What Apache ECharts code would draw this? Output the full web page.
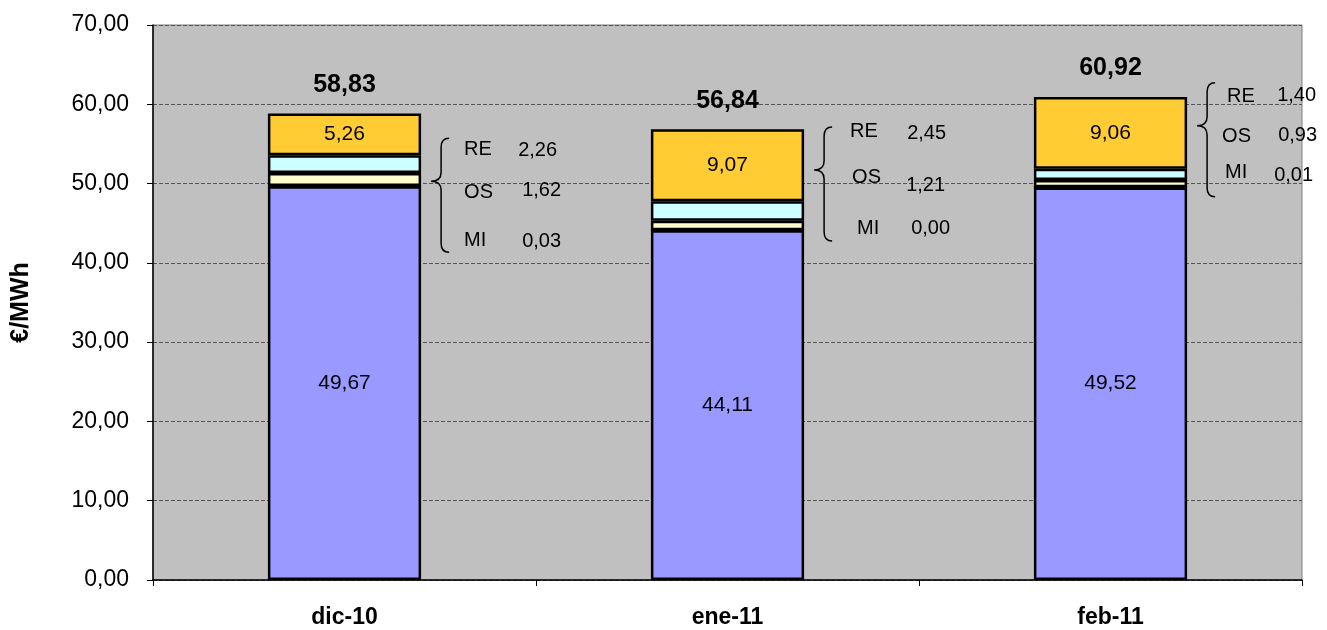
<!DOCTYPE html>
<html>
<head>
<meta charset="utf-8">
<script src="https://cdn.jsdelivr.net/npm/echarts@6/dist/echarts.min.js"></script>
<style>
  html, body { margin: 0; padding: 0; background: #ffffff; }
  #chart { width: 1327px; height: 630px; }
</style>
</head>
<body>
<div id="chart"></div>
<script>
// ---- data ----
const categories = ['dic-10', 'ene-11', 'feb-11'];
const baseValues = [49.67, 44.11, 49.52];
const miValues = [0.03, 0.00, 0.01];
const osValues = [1.62, 1.21, 0.93];
const reValues = [2.26, 2.45, 1.40];
const topValues = [5.26, 9.07, 9.06];
const totals = [58.83, 56.84, 60.92];
const yTicks = { min: 0, max: 70, interval: 10 };

// ---- annotation layout (value where each brace points, text offsets in px) ----
const braceTip = [50.3, 51.7, 57.3];
const annoLayout = [
  { lx: [33, 33, 33], ly: [-32, 11, 59], vx: [126, 130, 130], vy: [-31, 9, 60] },
  { lx: [36, 38, 43], ly: [-39, 7, 58], vx: [132, 131, 136], vy: [-37, 15, 58] },
  { lx: [30, 25, 28], ly: [-29, 11, 47], vx: [119, 120, 116], vy: [-30, 10, 50] }
];

const FONT = 'Liberation Sans, Arial, sans-serif';
const fmt = v => Number(v).toFixed(2).replace('.', ',');

const chart = echarts.init(document.getElementById('chart'), null, { renderer: 'canvas' });

const BW = 2.5;
const barBase = { type: 'bar', stack: 'total', barWidth: '40%' };

function braceRender(params, api) {
  const i = api.value(0);
  const p = api.coord([i, api.value(1)]);
  const bw = api.size([1, 0])[0] * 0.4;
  const tx = p[0] + bw / 2 + 10;
  const ty = p[1];
  const top = ty - 43, bot = ty + 71;
  const vx = tx + 10;
  const path = `M${tx + 18} ${top} Q${vx} ${top} ${vx} ${top + 9} L${vx} ${ty - 9} Q${vx} ${ty} ${tx} ${ty} ` +
               `Q${vx} ${ty} ${vx} ${ty + 9} L${vx} ${bot - 9} Q${vx} ${bot} ${tx + 18} ${bot}`;
  const L = annoLayout[i];
  const rows = [['RE', reValues[i]], ['OS', osValues[i]], ['MI', miValues[i]]];
  const children = [{
    type: 'path',
    shape: { pathData: path },
    style: { fill: null, stroke: '#000', lineWidth: 1.5 }
  }];
  rows.forEach((r, k) => {
    children.push({
      type: 'text',
      style: { text: r[0], x: tx + L.lx[k], y: ty + L.ly[k], fill: '#000', fontSize: 20, fontFamily: FONT, align: 'left', verticalAlign: 'middle' }
    });
    children.push({
      type: 'text',
      style: { text: fmt(r[1]), x: tx + L.vx[k], y: ty + L.vy[k], fill: '#000', fontSize: 20, fontFamily: FONT, align: 'right', verticalAlign: 'middle' }
    });
  });
  return { type: 'group', children };
}

const option = {
  animation: false,
  backgroundColor: '#ffffff',
  textStyle: { fontFamily: FONT },
  grid: {
    left: 153, right: 25, top: 25, bottom: 50,
    show: true, backgroundColor: '#C0C0C0', borderColor: '#808080', borderWidth: 1
  },
  xAxis: {
    type: 'category',
    data: categories,
    axisLine: { lineStyle: { color: '#000', width: 1.5 } },
    axisTick: { show: true, length: 6, lineStyle: { color: '#000' } },
    axisLabel: { color: '#000', fontSize: 23, fontWeight: 'bold', fontFamily: FONT, margin: 26 }
  },
  yAxis: {
    type: 'value',
    min: yTicks.min, max: yTicks.max, interval: yTicks.interval,
    name: '€/MWh',
    nameLocation: 'middle',
    nameRotate: 90,
    nameGap: 119,
    nameTextStyle: { color: '#000', fontSize: 25, fontWeight: 'bold', fontFamily: FONT },
    axisLine: { show: true, lineStyle: { color: '#000', width: 1.5 } },
    axisTick: { show: true, length: 6, lineStyle: { color: '#000' } },
    axisLabel: { color: '#000', fontSize: 23, fontFamily: FONT, margin: 24, formatter: v => fmt(v) },
    splitLine: { show: true, lineStyle: { color: '#555', type: [4, 2], width: 1 } }
  },
  series: [
    Object.assign({}, barBase, {
      name: 'base', data: baseValues,
      itemStyle: { color: '#9999FF', borderColor: '#000', borderWidth: BW },
      label: { show: true, position: 'inside', color: '#000', fontSize: 21, fontFamily: FONT, formatter: p => fmt(p.value) }
    }),
    Object.assign({}, barBase, {
      name: 'MI', data: miValues,
      itemStyle: { color: '#333399', borderColor: '#000', borderWidth: BW }
    }),
    Object.assign({}, barBase, {
      name: 'OS', data: osValues,
      itemStyle: { color: '#FFFFCC', borderColor: '#000', borderWidth: BW }
    }),
    Object.assign({}, barBase, {
      name: 'RE', data: reValues,
      itemStyle: { color: '#CCFFFF', borderColor: '#000', borderWidth: BW }
    }),
    Object.assign({}, barBase, {
      name: 'top', data: topValues,
      itemStyle: { color: '#FFCC33', borderColor: '#000', borderWidth: BW },
      label: { show: true, position: 'inside', color: '#000', fontSize: 21, fontFamily: FONT, formatter: p => fmt(p.value) }
    }),
    {
      name: 'totals', type: 'bar', stack: 'total', barWidth: '40%',
      data: totals.map(() => 0),
      itemStyle: { color: 'transparent', borderWidth: 0 },
      label: {
        show: true, position: 'top', distance: 16, color: '#000', fontSize: 25, fontWeight: 'bold', fontFamily: FONT,
        formatter: p => fmt(totals[p.dataIndex])
      },
      silent: true
    },
    {
      name: 'braces', type: 'custom',
      data: categories.map((c, i) => [i, braceTip[i]]),
      encode: { x: 0, y: 1 },
      renderItem: braceRender,
      clip: false,
      silent: true,
      z: 10
    }
  ]
};

chart.setOption(option);
</script>
</body>
</html>
